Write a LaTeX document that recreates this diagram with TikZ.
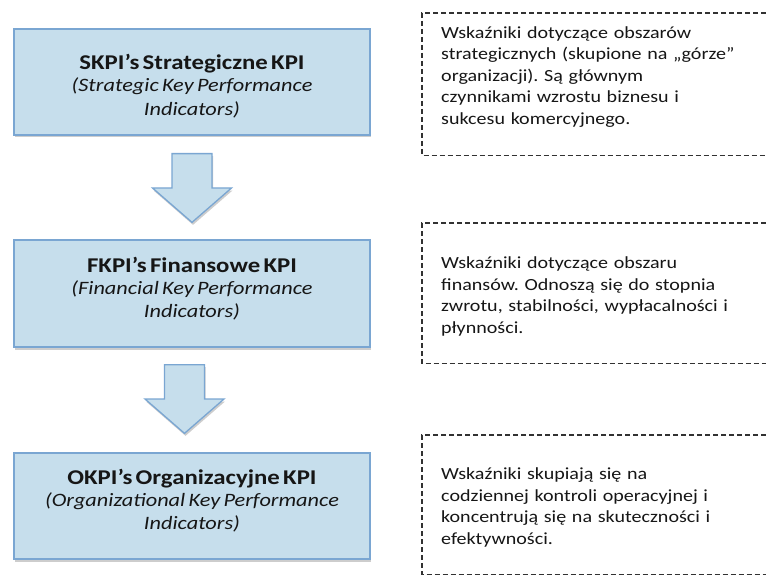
\documentclass[tikz,border=0pt]{standalone}
\usepackage{fontspec}
\setmainfont{Carlito}[FakeStretch=1.18]
\usetikzlibrary{calc,shadows}
\frenchspacing

\definecolor{kpifill}{RGB}{198,222,236}
\definecolor{kpiedge}{RGB}{122,166,210}
\definecolor{notedash}{RGB}{50,50,50}
\definecolor{inktext}{RGB}{22,22,22}

\newcommand{\kpititle}{\fontsize{21}{24}\selectfont\bfseries}
\newcommand{\kpisub}{\fontsize{18.9}{23.5}\selectfont\itshape}
\newcommand{\notefont}{\fontsize{17}{21.5}\selectfont}

% block arrow pointing down, from the middle of the top edge (#1) to the tip (#2)
\newcommand{\kpiarrow}[2]{%
  \path[blockarrow]
    ($(#1)+(-20,0)$) -- ($(#1)+(20,0)$)
    -- ($(#1)!0.5!(#2)+(20,0)$) -- ($(#1)!0.5!(#2)+(39.5,0)$)
    -- (#2)
    -- ($(#1)!0.5!(#2)+(-39.5,0)$) -- ($(#1)!0.5!(#2)+(-20,0)$)
    -- cycle;}

% dashed frame that runs on past the right edge of the page
\newcommand{\noteframe}[1]{%
  \draw[noteline] ($(#1.north west)+(360,0)$) -- (#1.north west)
    -- (#1.south west) -- ($(#1.south west)+(360,0)$);}

\begin{document}
\begin{tikzpicture}[x=1pt,y=-1pt,
  softshadow/.style={drop shadow={shadow xshift=1pt, shadow yshift=-2.5pt,
      opacity=0.28, fill=black!70}},
  kpibox/.style={draw=kpiedge, line width=1.3pt, fill=kpifill,
      minimum width=356pt, inner sep=0pt, softshadow},
  kpitext/.style={text width=340pt, align=center, inner sep=0pt, text=inktext},
  blockarrow/.style={draw=kpiedge, line width=1.3pt, fill=kpifill,
      line join=miter, softshadow},
  notebox/.style={anchor=north west, minimum width=340pt, inner sep=0pt},
  noteline/.style={draw=notedash, line width=1.1pt, dash pattern=on 5pt off 3pt},
  notetext/.style={text width=320pt, align=left, inner sep=0pt, text=inktext,
      font=\notefont, anchor=base west}]

\useasboundingbox (0,0) rectangle (766,575);
\clip (0,0) rectangle (766,575);
\fill[white] (0,0) rectangle (766,575);

% KPI level boxes
\node[kpibox, minimum height=106pt] (sk) at (192,82) {};
\node[kpibox, minimum height=107pt] (fk) at (192,293.5) {};
\node[kpibox, minimum height=106pt] (ok) at (192,506) {};

\node[kpitext, anchor=base] (skt) at (192,70)
  {{\kpititle SKPI’s Strategiczne KPI}\par\vspace{-1.5pt}\kpisub (Strategic Key Performance\\Indicators)\par};
\node[kpitext, anchor=base] (fkt) at (192,272)
  {{\kpititle FKPI’s Finansowe KPI}\par\vspace{-1.5pt}\kpisub (Financial Key Performance\\Indicators)\par};
\node[kpitext, anchor=base] (okt) at (192,484)
  {{\kpititle OKPI’s Organizacyjne KPI}\par\vspace{-1.5pt}\kpisub (Organizational Key Performance\\Indicators)\par};

% arrows between the levels
\coordinate (a1top) at ($(sk.south)+(0,18)$);
\coordinate (a1tip) at ($(fk.north)+(0,-17)$);
\coordinate (a2top) at ($(fk.south)+(-7.5,17)$);
\coordinate (a2tip) at ($(ok.north)+(-7.5,-19)$);
\kpiarrow{a1top}{a1tip}
\kpiarrow{a2top}{a2tip}

% descriptions
\node[notebox, minimum height=142pt] (n1) at (422,13) {};
\node[notebox, minimum height=140pt] (n2) at (422,223) {};
\node[notebox, minimum height=139pt] (n3) at (422,435) {};
\noteframe{n1}
\noteframe{n2}
\noteframe{n3}

\node[notetext] (n1t) at (441,38.5)
  {Wskaźniki dotyczące obszarów\\strategicznych (skupione na „górze”\\organizacji). Są głównym\\czynnikami wzrostu biznesu i\\sukcesu komercyjnego.};
\node[notetext] (n2t) at (441,268.5)
  {Wskaźniki dotyczące obszaru\\finansów. Odnoszą się do stopnia\\zwrotu, stabilności, wypłacalności i\\płynności.};
\node[notetext] (n3t) at (441,479.5)
  {Wskaźniki skupiają się na\\codziennej kontroli operacyjnej i\\koncentrują się na skuteczności i\\efektywności.};
\end{tikzpicture}
\end{document}
